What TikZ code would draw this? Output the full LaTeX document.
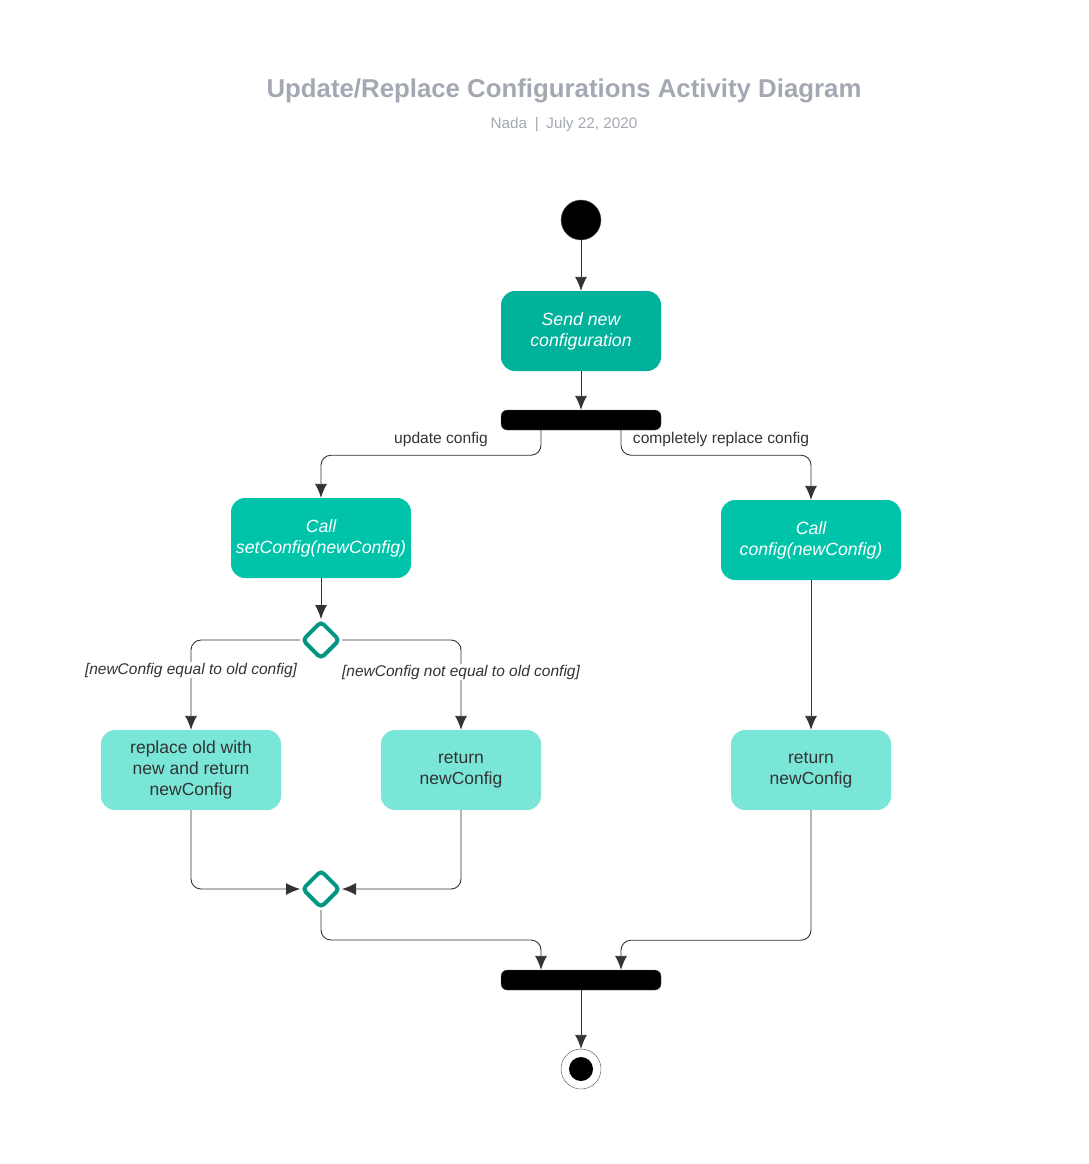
\documentclass[tikz,border=0pt]{standalone}
\usepackage{fontspec}
\setmainfont{Liberation Sans}
\usetikzlibrary{positioning}
\usetikzlibrary{shapes.geometric}
\usetikzlibrary{arrows.meta}

\definecolor{sendcol}{RGB}{0,178,155}
\definecolor{callcol}{RGB}{0,196,170}
\definecolor{retcol}{RGB}{122,230,216}
\definecolor{decicol}{RGB}{0,150,130}
\definecolor{titlecol}{RGB}{163,168,179}
\definecolor{linecol}{RGB}{51,51,51}

\begin{document}
\begin{tikzpicture}[x=1pt, y=-1pt,
    act/.style = {rounded corners=14, minimum width=160, minimum height=80, align=center, text=white, font=\fontsize{17.7}{21}\selectfont\itshape},
    ret/.style = {rounded corners=14, minimum width=160, minimum height=80, align=center, fill=retcol, text=linecol, font=\fontsize{17.5}{21}\selectfont},
    bar/.style = {draw=black!60, fill=black, rounded corners=6, minimum width=160, minimum height=20, inner sep=0},
    deci/.style = {diamond, draw=decicol, line width=4, fill=white, rounded corners=4, minimum size=38, inner sep=0},
    lbl/.style = {text=linecol, font=\fontsize{15.6}{18}\selectfont},
    guard/.style = {fill=white, text=linecol, inner sep=1, font=\fontsize{15.5}{18}\selectfont\itshape},
    arr/.style = {draw=linecol, line width=0.9, rounded corners=10, -{Latex[length=14pt, width=12pt]}}]
    \useasboundingbox (0,0) rectangle (1089,1164);

    \node[font=\fontsize{25.8}{30}\selectfont\bfseries, text=titlecol] (title) at (564,91) {Update/Replace Configurations Activity Diagram};
    \node[font=\fontsize{15.3}{18}\selectfont, text=titlecol] (sub) at (564,125) {Nada\enspace|\enspace July 22, 2020};

    \node[circle, fill=black, draw=black!60, minimum size=40] (start) at (581,220) {};
    \node[act, fill=sendcol] (send) at (581,331) {Send new\\configuration};
    \node[bar] (fork) at (581,420) {};
    \node[act, fill=callcol, minimum width=180] (setcfg) at (321,538) {Call\\setConfig(newConfig)};
    \node[act, fill=callcol, minimum width=180] (cfg) at (811,540) {Call\\config(newConfig)};
    \node[deci] (split) at (321,640) {};
    \node[ret, minimum width=180] (replace) at (191,770) {replace old with\\new and return\\newConfig};
    \node[ret] (retA) at (461,770) {return\\newConfig};
    \node[ret] (retB) at (811,770) {return\\newConfig};
    \node[deci] (merge) at (321,889) {};
    \node[bar] (join) at (581,980) {};
    \node[circle, draw=black!70, minimum size=40, path picture={\fill[black] (path picture bounding box.center) circle (12);}] (stop) at (581,1069) {};

    \draw[arr] (start) -- (send);
    \draw[arr] (send) -- (fork);
    \draw[arr] ([xshift=-40pt]fork.south) -- ++(0,25) -| (setcfg.north);
    \draw[arr] ([xshift=40pt]fork.south) -- ++(0,25) -| (cfg.north);
    \draw[arr] (setcfg) -- (split);
    \draw[arr] (split.west) -| (replace.north);
    \draw[arr] (split.east) -| (retA.north);
    \draw[arr] (cfg) -- (retB);
    \draw[arr] (replace.south) |- (merge.west);
    \draw[arr] (retA.south) |- (merge.east);
    \draw[arr] (merge.south) -- ++(0,30) -| ([xshift=-40pt]join.north);
    \draw[arr] (retB.south) -- ++(0,130) -| ([xshift=40pt]join.north);
    \draw[arr] (join) -- (stop);

    \node[lbl] at (441,439) {update config};
    \node[lbl] at (721,439) {completely replace config};
    \node[guard] at (191,670) {[newConfig equal to old config]};
    \node[guard] at (461,672) {[newConfig not equal to old config]};
\end{tikzpicture}
\end{document}
